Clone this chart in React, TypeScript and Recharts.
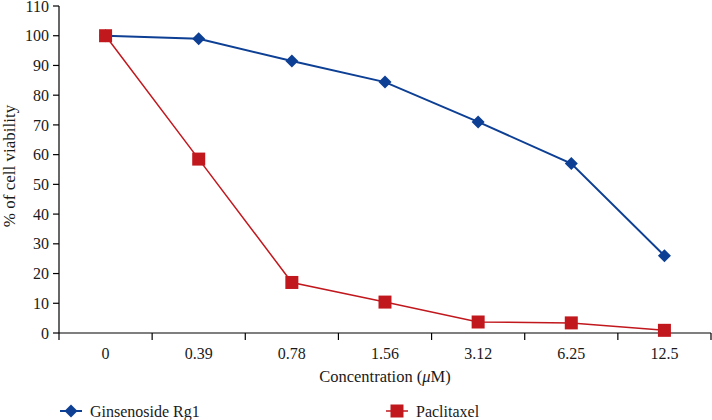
import React from 'react';
import { LineChart, Line, XAxis, YAxis } from 'recharts';

const concentrations = ['0', '0.39', '0.78', '1.56', '3.12', '6.25', '12.5'];
const ginsenosideRg1 = [100, 99, 91.5, 84.4, 71, 57, 26];
const paclitaxel = [100, 58.5, 17, 10.4, 3.7, 3.4, 0.9];
const yTicks = [0, 10, 20, 30, 40, 50, 60, 70, 80, 90, 100, 110];

const data = concentrations.map((c, i) => ({
  conc: c,
  rg1: ginsenosideRg1[i],
  ptx: paclitaxel[i],
}));

const BLUE = '#0d3f94';
const RED = '#c1181e';
const FONT = '"Liberation Serif", "Times New Roman", serif';

const Diamond = (props: any) => {
  const { cx, cy } = props;
  if (cx == null || cy == null) return null;
  const r = 6.5;
  return <path d={`M${cx},${cy - r}L${cx + r},${cy}L${cx},${cy + r}L${cx - r},${cy}Z`} fill={BLUE} />;
};

const Square = (props: any) => {
  const { cx, cy } = props;
  if (cx == null || cy == null) return null;
  const s = 6.5;
  return <rect x={cx - s} y={cy - s} width={2 * s} height={2 * s} fill={RED} />;
};

const XTick = (props: any) => {
  const { x, y, payload, index, visibleTicksCount } = props;
  const half = 652 / 7 / 2;
  const n = visibleTicksCount ?? concentrations.length;
  return (
    <g>
      <line x1={x - half} x2={x - half} y1={y - 8} y2={y - 1} stroke="#000" strokeWidth={1.2} />
      {index === n - 1 && (
        <line x1={x + half} x2={x + half} y1={y - 8} y2={y - 1} stroke="#000" strokeWidth={1.2} />
      )}
      <text x={x} y={y + 17.5} textAnchor="middle" fontSize={16} fontFamily={FONT} fill="#1a1a1a">
        {payload.value}
      </text>
    </g>
  );
};

const LegendBox = () => (
  <svg width={712} height={24} style={{ position: 'absolute', left: 0, top: 399 }}>
    <g>
      <line x1={60} x2={82} y1={12} y2={12} stroke={BLUE} strokeWidth={2} />
      <path d="M71,5.5L77.5,12L71,18.5L64.5,12Z" fill={BLUE} />
      <text x={90} y={17.5} fontSize={16} fontFamily={FONT} fill="#1a1a1a">Ginsenoside Rg1</text>
    </g>
    <g>
      <line x1={386} x2={408} y1={12} y2={12} stroke={RED} strokeWidth={1.5} />
      <rect x={390.5} y={5.5} width={13} height={13} fill={RED} />
      <text x={416} y={17.5} fontSize={16} fontFamily={FONT} fill="#1a1a1a">Paclitaxel</text>
    </g>
  </svg>
);

export default function App() {
  return (
    <div style={{ position: 'absolute', left: 0, top: 0, width: 712, height: 420, background: '#fff' }}>
      <LineChart
        width={712}
        height={420}
        data={data}
        margin={{ top: 6, right: 1, bottom: 0, left: 0 }}
      >
        <XAxis
          dataKey="conc"
          scale="band"
          tickLine={false}
          axisLine={{ stroke: '#000', strokeWidth: 1.2 }}
          tick={<XTick />}
          interval={0}
          height={87}
          label={{
            content: () => (
              <text x={385} y={382} textAnchor="middle" fontSize={16.5} fontFamily={FONT} fill="#1a1a1a">
                Concentration (<tspan fontStyle="italic">μ</tspan>M)
              </text>
            ),
          }}
        />
        <YAxis
          width={59}
          domain={[0, 110]}
          ticks={yTicks}
          interval={0}
          tickSize={6}
          tickLine={{ stroke: '#000', strokeWidth: 1.2 }}
          axisLine={{ stroke: '#000', strokeWidth: 1.2 }}
          tick={{ fontSize: 16, fontFamily: FONT, fill: '#1a1a1a' }}
          tickMargin={4}
          label={{
            content: () => (
              <text
                x={15}
                y={166}
                transform="rotate(-90 15 166)"
                textAnchor="middle"
                fontSize={17}
                fontFamily={FONT}
                fill="#1a1a1a"
              >
                % of cell viability
              </text>
            ),
          }}
        />
        <Line
          dataKey="rg1"
          stroke={BLUE}
          strokeWidth={2}
          dot={<Diamond />}
          activeDot={false}
          isAnimationActive={false}
        />
        <Line
          dataKey="ptx"
          stroke={RED}
          strokeWidth={1.5}
          dot={<Square />}
          activeDot={false}
          isAnimationActive={false}
        />
      </LineChart>
      <LegendBox />
    </div>
  );
}
